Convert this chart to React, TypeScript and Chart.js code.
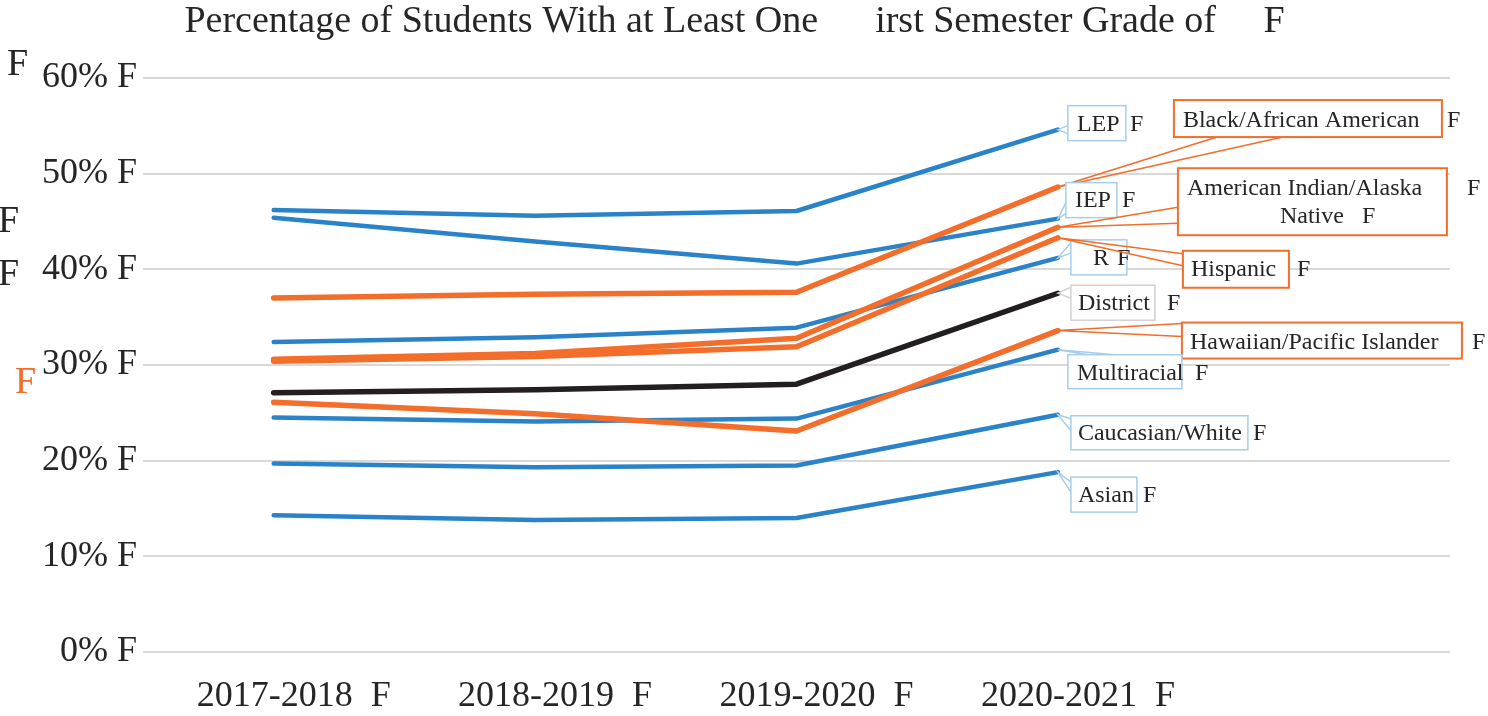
import React, { useEffect, useRef } from 'react';
import { Chart, registerables } from 'chart.js';

Chart.register(...registerables);

// ---------- data ----------
const titleText = '  Percentage of Students With at Least One      irst Semester Grade of     F';
const categories = ['2017-2018  F', '2018-2019  F', '2019-2020  F', '2020-2021  F', ''];
const yTickSuffix = '% F';

const districtValues = [27.1, 27.4, 28.0, 37.5];
const blackValues = [37.0, 37.4, 37.6, 48.6];
const amIndianValues = [30.6, 31.2, 32.8, 44.4];
const hispanicValues = [30.4, 30.9, 31.9, 43.3];
const hawaiianValues = [26.1, 24.9, 23.1, 33.6];
const lepValues = [46.2, 45.6, 46.1, 54.6];
const iepValues = [45.4, 42.9, 40.6, 45.3];
const rValues = [32.4, 32.9, 33.9, 41.2];
const multiracialValues = [24.5, 24.1, 24.4, 31.6];
const caucasianValues = [19.7, 19.3, 19.5, 24.8];
const asianValues = [14.3, 13.8, 14.0, 18.8];

// ---------- styles ----------
const FONT = 'Liberation Serif';
const TEXT = '#262626';
const BLUE = '#2A83C8';
const ORANGE = '#F36D2B';
const BLACK = '#231F20';
const LIGHT_BLUE = '#A6CDEB';
const GREY_BORDER = '#D3D3D3';

type SeriesDef = { key: string; values: number[]; color: string; width: number };
// first in list is drawn on top
const series: SeriesDef[] = [
  { key: 'District', values: districtValues, color: BLACK, width: 5.5 },
  { key: 'Black/African American', values: blackValues, color: ORANGE, width: 5.5 },
  { key: 'American Indian/Alaska Native', values: amIndianValues, color: ORANGE, width: 5.5 },
  { key: 'Hispanic', values: hispanicValues, color: ORANGE, width: 5.5 },
  { key: 'Hawaiian/Pacific Islander', values: hawaiianValues, color: ORANGE, width: 5.5 },
  { key: 'LEP', values: lepValues, color: BLUE, width: 4.5 },
  { key: 'IEP', values: iepValues, color: BLUE, width: 4.5 },
  { key: 'R', values: rValues, color: BLUE, width: 4.5 },
  { key: 'Multiracial', values: multiracialValues, color: BLUE, width: 4.5 },
  { key: 'Caucasian/White', values: caucasianValues, color: BLUE, width: 4.5 },
  { key: 'Asian', values: asianValues, color: BLUE, width: 4.5 },
];

// callout placement relative to the last point of each series
type Callout = {
  key: string;
  border: string;
  borderWidth: number;
  leader: string;
  box: [number, number, number, number];
  wedge: [number, number, number, number];
  texts: [string, number, number][];
};
const callouts: Callout[] = [
  { key: 'LEP', border: LIGHT_BLUE, borderWidth: 1.5, leader: LIGHT_BLUE, box: [10, -24, 58, 35], wedge: [10, -4, 10, 4], texts: [['LEP', 19, 1], ['F', 72, 1]] },
  { key: 'Black/African American', border: ORANGE, borderWidth: 2, leader: ORANGE, box: [116, -87, 268, 37], wedge: [159, -50, 225, -50], texts: [['Black/African American', 125, -60], ['F', 389, -60]] },
  { key: 'IEP', border: LIGHT_BLUE, borderWidth: 1.5, leader: LIGHT_BLUE, box: [8, -36, 51, 35], wedge: [8, -16, 8, -5], texts: [['IEP', 17, -12], ['F', 64, -12]] },
  { key: 'American Indian/Alaska Native', border: ORANGE, borderWidth: 2, leader: ORANGE, box: [120, -59, 269, 67], wedge: [120, -20, 120, -4], texts: [['American Indian/Alaska', 129, -32], ['F', 409, -32], ['Native', 222, -4], ['F', 304, -4]] },
  { key: 'R', border: LIGHT_BLUE, borderWidth: 1.5, leader: LIGHT_BLUE, box: [13, -18, 56, 35], wedge: [13, -15, 13, -5], texts: [['R', 35, 7], ['F', 59, 7]] },
  { key: 'Hispanic', border: ORANGE, borderWidth: 2, leader: ORANGE, box: [125, 13, 106, 37], wedge: [125, 16, 125, 28], texts: [['Hispanic', 133, 38], ['F', 239, 38]] },
  { key: 'District', border: GREY_BORDER, borderWidth: 1.5, leader: GREY_BORDER, box: [13, -8, 84, 35], wedge: [13, -6, 13, 5], texts: [['District', 20, 17], ['F', 109, 17]] },
  { key: 'Hawaiian/Pacific Islander', border: ORANGE, borderWidth: 2, leader: ORANGE, box: [124, -8, 280, 36], wedge: [124, -7, 124, 6], texts: [['Hawaiian/Pacific Islander', 132, 18], ['F', 414, 18]] },
  { key: 'Multiracial', border: LIGHT_BLUE, borderWidth: 1.5, leader: LIGHT_BLUE, box: [10, 5, 114, 34], wedge: [30, 5, 57, 5], texts: [['Multiracial', 19, 30], ['F', 137, 30]] },
  { key: 'Caucasian/White', border: LIGHT_BLUE, borderWidth: 1.5, leader: LIGHT_BLUE, box: [13, 1, 177, 34], wedge: [13, 4, 13, 16], texts: [['Caucasian/White', 20, 25], ['F', 195, 25]] },
  { key: 'Asian', border: LIGHT_BLUE, borderWidth: 1.5, leader: LIGHT_BLUE, box: [13, 5, 66, 35], wedge: [13, 10, 13, 20], texts: [['Asian', 20, 30], ['F', 85, 30]] },
];

// stray glyphs to the left of the axis
const strayGlyphs: [string, number, number, string][] = [
  ['F', 7, 75, TEXT],
  ['F', -2, 232, TEXT],
  ['F', -2, 285, TEXT],
  ['F', 15, 393, ORANGE],
];

const calloutPlugin = {
  id: 'callouts',
  afterDatasetsDraw(chart: any) {
    const ctx = chart.ctx as CanvasRenderingContext2D;
    ctx.save();
    callouts.forEach((c) => {
      const idx = series.findIndex((s) => s.key === c.key);
      const meta = chart.getDatasetMeta(idx);
      const pt = meta.data[3];
      if (!pt) return;
      const ax = pt.x;
      const ay = pt.y;
      const [bx, by, bw, bh] = c.box;
      // leader wedge
      ctx.strokeStyle = c.leader;
      ctx.lineWidth = 1.5;
      ctx.beginPath();
      ctx.moveTo(ax + c.wedge[0], ay + c.wedge[1]);
      ctx.lineTo(ax, ay);
      ctx.lineTo(ax + c.wedge[2], ay + c.wedge[3]);
      ctx.stroke();
      // box
      ctx.fillStyle = '#ffffff';
      ctx.fillRect(ax + bx, ay + by, bw, bh);
      ctx.lineWidth = c.borderWidth;
      ctx.strokeStyle = c.border;
      ctx.strokeRect(ax + bx, ay + by, bw, bh);
      // text
      ctx.fillStyle = TEXT;
      ctx.font = `24px "${FONT}"`;
      ctx.textBaseline = 'alphabetic';
      ctx.textAlign = 'left';
      c.texts.forEach(([t, dx, dy]) => ctx.fillText(t, ax + dx, ay + dy));
    });
    ctx.restore();
  },
  afterDraw(chart: any) {
    const ctx = chart.ctx as CanvasRenderingContext2D;
    ctx.save();
    ctx.font = `38px "${FONT}"`;
    ctx.textBaseline = 'alphabetic';
    ctx.textAlign = 'left';
    strayGlyphs.forEach(([t, x, y, col]) => {
      ctx.fillStyle = col;
      ctx.fillText(t, x, y);
    });
    ctx.restore();
  },
};

export default function App() {
  const ref = useRef<HTMLCanvasElement>(null);
  useEffect(() => {
    const chart = new Chart(ref.current as HTMLCanvasElement, {
      type: 'line',
      data: {
        labels: categories,
        datasets: series.map((s) => ({
          label: s.key,
          data: s.values,
          borderColor: s.color,
          backgroundColor: s.color,
          borderWidth: s.width,
          pointRadius: 0,
          pointHoverRadius: 0,
          tension: 0,
          fill: false,
          borderCapStyle: 'round' as const,
          borderJoinStyle: 'round' as const,
        })),
      },
      options: {
        responsive: false,
        animation: false,
        events: [],
        layout: { padding: { left: 0, right: 38, top: 0, bottom: 0 } },
        plugins: {
          legend: { display: false },
          tooltip: { enabled: false },
          title: {
            display: true,
            text: titleText,
            color: TEXT,
            font: { family: FONT, size: 38, weight: 'normal', lineHeight: 1 },
            padding: { top: 3, bottom: 37 },
          },
        },
        scales: {
          x: {
            type: 'category',
            offset: true,
            grid: { display: false, drawTicks: false },
            border: { display: false },
            ticks: {
              color: TEXT,
              font: { family: FONT, size: 36 },
              padding: 23,
              labelOffset: 20,
              maxRotation: 0,
              autoSkip: false,
            },
            afterFit(scale: any) {
              scale.height = 64;
            },
          },
          y: {
            min: 0,
            max: 60,
            grid: { color: '#D9D9D9', lineWidth: 2, drawTicks: false },
            border: { display: false },
            ticks: {
              stepSize: 10,
              color: TEXT,
              font: { family: FONT, size: 36 },
              padding: 6,
              callback: (v: any) => `${v}${yTickSuffix}`,
            },
            afterFit(scale: any) {
              scale.width = 143;
            },
          },
        },
      },
      plugins: [calloutPlugin],
    });
    return () => chart.destroy();
  }, []);
  return (
    <div style={{ position: 'absolute', left: 0, top: 0, width: 1488, height: 716, background: '#ffffff' }}>
      <canvas ref={ref} width={1488} height={716} style={{ width: 1488, height: 716, display: 'block' }} />
    </div>
  );
}
